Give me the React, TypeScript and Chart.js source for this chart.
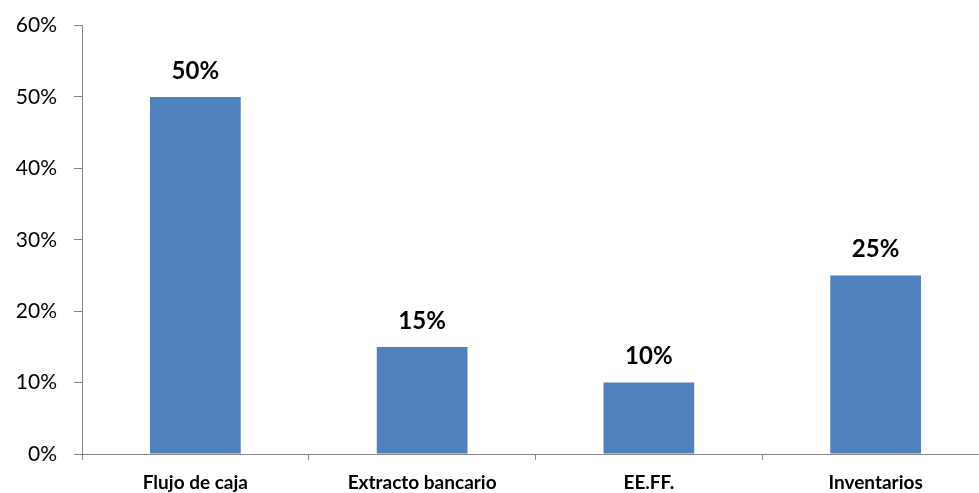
import React, { useEffect, useRef } from "react";
import { Chart, registerables } from "chart.js";

Chart.register(...registerables);

const categories = ["Flujo de caja", "Extracto bancario", "EE.FF.", "Inventarios"];
const values = [50, 15, 10, 25];
const yTicks = [0, 10, 20, 30, 40, 50, 60];

const FONT = "Lato, 'Open Sans', 'Liberation Sans', sans-serif";

const labelPlugin = {
  id: "barLabels",
  afterDatasetsDraw(chart: any) {
    const ctx = chart.ctx;
    const meta = chart.getDatasetMeta(0);
    ctx.save();
    ctx.font = `bold 24px ${FONT}`;
    ctx.fillStyle = "#000000";
    ctx.textAlign = "center";
    ctx.textBaseline = "middle";
    meta.data.forEach((bar: any, i: number) => {
      ctx.fillText(`${values[i]}%`, bar.x, bar.y - 26);
    });
    ctx.restore();
  },
};

export default function App() {
  const ref = useRef<HTMLCanvasElement | null>(null);
  useEffect(() => {
    if (!ref.current) return;
    const chart = new Chart(ref.current, {
      type: "bar",
      data: {
        labels: categories,
        datasets: [
          {
            data: values,
            backgroundColor: "#4F81BD",
            borderWidth: 0,
            categoryPercentage: 1,
            barPercentage: 0.4,
          },
        ],
      },
      options: {
        animation: false,
        responsive: true,
        maintainAspectRatio: false,
        layout: { padding: { top: 17, right: 0, bottom: 0, left: 0 } },
        plugins: { legend: { display: false }, tooltip: { enabled: false } },
        scales: {
          x: {
            grid: {
              display: true,
              drawOnChartArea: false,
              offset: true,
              tickLength: 6,
              color: "#868686",
            },
            border: { display: true, color: "#868686", width: 1 },
            ticks: {
              color: "#000000",
              font: { family: FONT, size: 19, weight: "bold" },
              padding: 11,
              maxRotation: 0,
              autoSkip: false,
            },
            afterFit(scale: any) {
              scale.height = 39;
            },
          },
          y: {
            min: 0,
            max: 60,
            afterBuildTicks(scale: any) {
              scale.ticks = yTicks.map((v) => ({ value: v }));
            },
            grid: {
              display: true,
              drawOnChartArea: false,
              tickLength: 8,
              color: "#868686",
            },
            border: { display: true, color: "#868686", width: 1 },
            ticks: {
              color: "#000000",
              font: { family: FONT, size: 21 },
              padding: 17,
              callback: (v: any) => `${v}%`,
            },
            afterFit(scale: any) {
              scale.width = 82;
            },
          },
        },
      },
      plugins: [labelPlugin],
    });
    return () => chart.destroy();
  }, []);
  return (
    <div style={{ position: "fixed", left: 0, top: -4, width: 989, height: 497, background: "#fff" }}>
      <canvas ref={ref} />
    </div>
  );
}
